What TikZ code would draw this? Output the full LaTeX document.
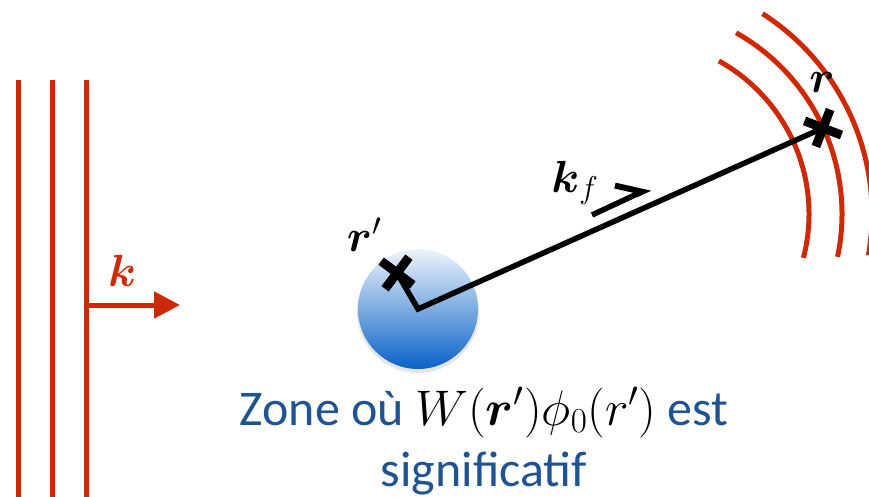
\RequirePackage{fix-cm}
\documentclass[tikz,border=0pt]{standalone}
\usepackage{amsmath}
\usepackage[no-math]{fontspec}
\setmainfont{Carlito}
\usepackage{xcolor}
\usepackage{tikz}
\usetikzlibrary{arrows.meta, shapes.misc}
\definecolor{waveRed}{RGB}{204,41,4}
\definecolor{zoneBlue}{RGB}{31,84,144}
\definecolor{sphereTop}{RGB}{238,244,251}
\definecolor{sphereBot}{RGB}{10,98,200}

\begin{document}
\begin{tikzpicture}[
    x=1pt, y=-1pt,
    >={Triangle[length=26pt, width=26pt]},
    wave/.style={draw=waveRed, line width=5pt},
    ray/.style={draw=black, line width=5.5pt, line join=miter},
    crossmark/.style={cross out, draw=black, line width=9pt, minimum size=19pt, inner sep=0pt},
    mathlbl/.style={font=\fontsize{45}{54}\selectfont, inner sep=0pt},
    zonetext/.style={text=zoneBlue, font=\fontsize{50}{60}\selectfont, inner sep=0pt, anchor=base},
]
    \useasboundingbox (0,0) rectangle (869,497);

    % incident plane wave
    \foreach \xx in {18,52,86}
        \draw[wave] (\xx,80) -- (\xx,497);
    \coordinate (kstart) at (86,305);
    \coordinate (ktip) at (180,305);
    \draw[wave, ->, waveRed] (kstart) -- (ktip);
    \node[mathlbl, text=waveRed] (klbl) at (122,271) {$\boldsymbol{k}$};

    % scattering zone
    \fill[black!10] (418,312) circle (61);
    \node[circle, minimum size=120pt, inner sep=0pt, top color=sphereTop, bottom color=sphereBot] (zone) at (418,309) {};

    % outgoing spherical wave
    \coordinate (wc) at (634,214);
    \draw[wave] ([shift={(-61:175)}]wc) arc[start angle=-61, end angle=14.5, radius=175];
    \draw[wave] ([shift={(-60.6:208)}]wc) arc[start angle=-60.6, end angle=11.9, radius=208];
    \draw[wave] ([shift={(-57.3:238)}]wc) arc[start angle=-57.3, end angle=10, radius=238];

    % positions
    \coordinate (c) at (418,309);
    \coordinate (rp) at (397,273);
    \coordinate (r) at (823,128);
    \draw[ray] (rp) -- (c) -- (r);
    \node[crossmark, rotate=8] (rpx) at (rp) {};
    \node[crossmark, rotate=24] (rx) at (r) {};
    \node[mathlbl] (rplbl) at (364,235) {$\boldsymbol{r}'$};
    \node[mathlbl] (rlbl) at (822,83) {$\boldsymbol{r}$};

    % outgoing direction
    \coordinate (kfs) at (592,215);
    \coordinate (kfe) at (650,188);
    \draw[ray, -{Straight Barb[harpoon, length=22pt, width=34pt, line width=6pt]}] (kfs) -- (kfe);
    \node[mathlbl] (kflbl) at (575,183) {$\boldsymbol{k}_f$};

    % caption
    \node[zonetext] (txt1) at (484,425) {Zone où {\color{black}$W(\boldsymbol{r}')\phi_0(r')$} est};
    \node[zonetext] (txt2) at (484,486) {significatif};
\end{tikzpicture}
\end{document}
